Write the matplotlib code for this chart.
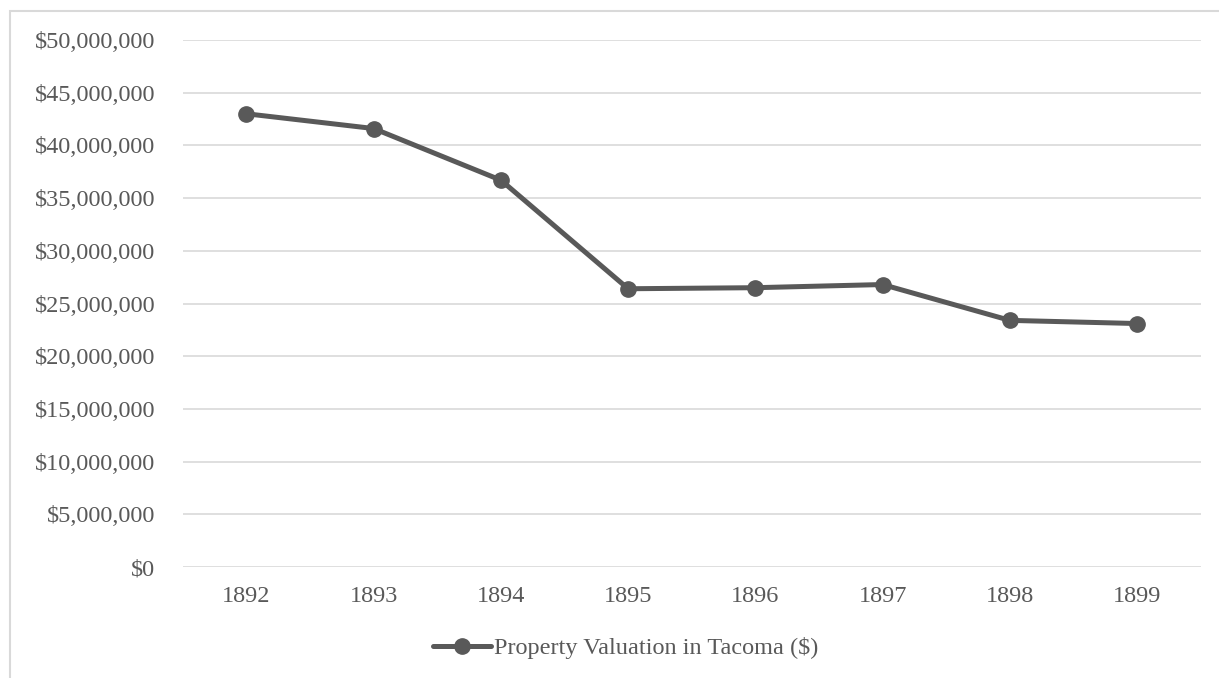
import matplotlib.pyplot as plt
from matplotlib.patches import Rectangle
from matplotlib.ticker import FuncFormatter

years = ["1892", "1893", "1894", "1895", "1896", "1897", "1898", "1899"]
valuation = [43.0e6, 41.6e6, 36.7e6, 26.4e6, 26.5e6, 26.8e6, 23.4e6, 23.1e6]
label = "Property Valuation in Tacoma ($)"

plt.rcParams["font.family"] = ["Liberation Serif", "DejaVu Serif"]
grey = "#595959"

fig = plt.figure(figsize=(12.19, 6.78), dpi=100)
ax = fig.add_axes([0.150, 0.1637, 0.835, 0.7773])

x = range(len(years))
ax.plot(x, valuation, color=grey, lw=3.6, marker="o", ms=11, label=label,
        solid_capstyle="round")

ax.set_xlim(-0.5, len(years) - 0.5)
ax.set_ylim(0, 50e6)
ax.set_yticks(range(0, 50000001, 5000000))
ax.yaxis.set_major_formatter(FuncFormatter(lambda v, p: "${:,.0f}".format(v)))
ax.set_xticks(list(x))
ax.set_xticklabels(years)
ax.grid(axis="y", color="#d9d9d9", lw=1.2)
ax.set_axisbelow(True)
for s in ax.spines.values():
    s.set_visible(False)
ax.tick_params(axis="both", length=0, labelsize=17.5, labelcolor=grey)
ax.tick_params(axis="y", pad=20)
ax.tick_params(axis="x", pad=14)

fig.legend(loc="center", bbox_to_anchor=(0.513, 0.044), frameon=False,
           fontsize=17.5, labelcolor=grey, handlelength=2.4, handletextpad=0.1)

# chart area border (only left and top visible in crop)
fig.patches.append(Rectangle((10 / 1219, -0.1), 1.2, 1.1 - 11 / 678,
                             transform=fig.transFigure, fill=False,
                             edgecolor="#d9d9d9", lw=1.5))

fig.savefig("out.png", dpi=100)
